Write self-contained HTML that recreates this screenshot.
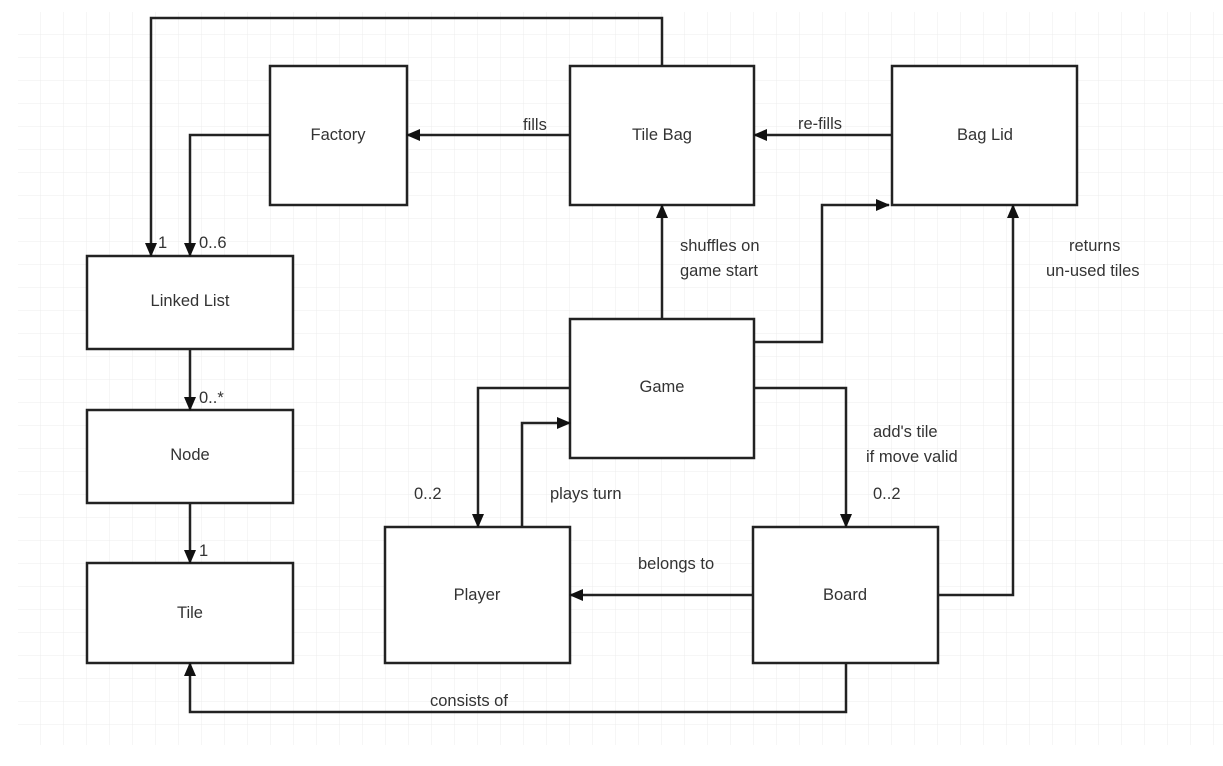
<!DOCTYPE html>
<html><head><meta charset="utf-8"><style>
html,body{margin:0;padding:0;background:#fff;}
svg{display:block;}
text{font-family:"Liberation Sans",Arial,sans-serif;font-size:16.5px;fill:#333;}
</style></head><body>
<svg width="1223" height="766" viewBox="0 0 1223 766" xmlns="http://www.w3.org/2000/svg">
<defs>
<pattern id="g" x="18" y="12" width="23" height="23" patternUnits="userSpaceOnUse">
<path d="M23 0V23M0 23H23" fill="none" stroke="#ececec" stroke-width="1"/>
</pattern>
<marker id="a" markerWidth="14" markerHeight="14" refX="13" refY="7" orient="auto" markerUnits="userSpaceOnUse">
<path d="M0,1 L14,7 L0,13 z" fill="#111"/>
</marker>
</defs>
<rect x="18" y="12" width="1205" height="733" fill="url(#g)"/>
<g fill="#fff" stroke="#222" stroke-width="2.5">
<rect x="270" y="66" width="137" height="139"/>
<rect x="570" y="66" width="184" height="139"/>
<rect x="892" y="66" width="185" height="139"/>
<rect x="87" y="256" width="206" height="93"/>
<rect x="87" y="410" width="206" height="93"/>
<rect x="87" y="563" width="206" height="100"/>
<rect x="570" y="319" width="184" height="139"/>
<rect x="385" y="527" width="185" height="136"/>
<rect x="753" y="527" width="185" height="136"/>
</g>
<g fill="none" stroke="#222" stroke-width="2.5" marker-end="url(#a)">
<path d="M662 66V18H151V256"/>
<path d="M270 135H190V256"/>
<path d="M570 135H407"/>
<path d="M892 135H754"/>
<path d="M662 319V205"/>
<path d="M754 342H822V205H889"/>
<path d="M938 595H1013V205"/>
<path d="M570 388H478V527"/>
<path d="M522 527V423H570"/>
<path d="M754 388H846V527"/>
<path d="M753 595H570"/>
<path d="M846 663V712H190V663"/>
<path d="M190 349V410"/>
<path d="M190 503V563"/>
</g>
<g text-anchor="middle">
<text x="338" y="140">Factory</text>
<text x="662" y="140">Tile Bag</text>
<text x="985" y="140">Bag Lid</text>
<text x="190" y="306">Linked List</text>
<text x="190" y="460">Node</text>
<text x="190" y="618">Tile</text>
<text x="662" y="392">Game</text>
<text x="477" y="600">Player</text>
<text x="845" y="600">Board</text>
</g>
<text x="158" y="248">1</text>
<text x="199" y="248">0..6</text>
<text x="199" y="403">0..*</text>
<text x="199" y="556">1</text>
<text x="523" y="130">fills</text>
<text x="798" y="129">re-fills</text>
<text x="680" y="251">shuffles on</text>
<text x="680" y="276">game start</text>
<text x="1069" y="251">returns</text>
<text x="1046" y="276">un-used tiles</text>
<text x="414" y="499">0..2</text>
<text x="550" y="499">plays turn</text>
<text x="873" y="437">add's tile</text>
<text x="866" y="462">if move valid</text>
<text x="873" y="499">0..2</text>
<text x="638" y="569">belongs to</text>
<text x="430" y="706">consists of</text>
</svg>
</body></html>
